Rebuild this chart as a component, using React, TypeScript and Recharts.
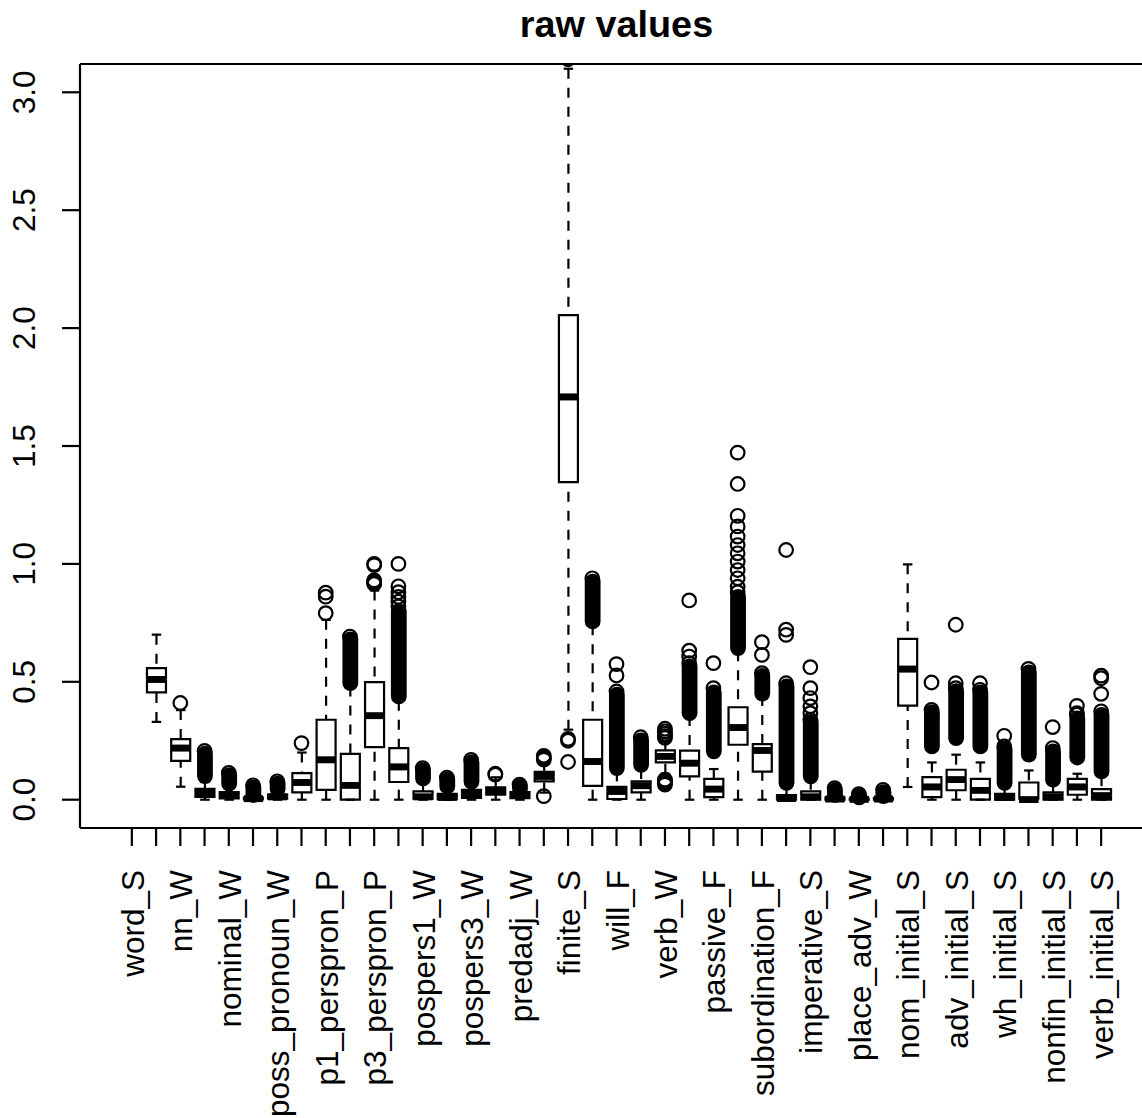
import { ComposedChart, Bar, Scatter, XAxis, YAxis, ReferenceLine } from 'recharts';

// every other variable gets a visible label (R drops the overlapping ones)
const LABELS = [
  'word_S', 'nn_W', 'nominal_W', 'poss_pronoun_W', 'p1_perspron_P', 'p3_perspron_P',
  'pospers1_W', 'pospers3_W', 'predadj_W', 'finite_S', 'will_F', 'verb_W', 'passive_F',
  'subordination_F', 'imperative_S', 'place_adv_W', 'nom_initial_S', 'adv_initial_S',
  'wh_initial_S', 'nonfin_initial_S', 'verb_initial_S',
];

const POSITIONS = [
  1, 2, 3, 4, 5, 6, 7, 8, 9, 10, 11, 12, 13, 14, 15, 16, 17, 18, 19, 20, 21,
  22, 23, 24, 25, 26, 27, 28, 29, 30, 31, 32, 33, 34, 35, 36, 37, 38, 39, 40, 41,
];

// box stats per position (word_S lies entirely above the plotted range)
const WHISKER_LOW = [
  null, 0.33, 0.055, 0, 0, 0, 0, 0, 0, 0, 0, 0, 0, 0, 0, 0, 0, 0.03, 0.297, 0, 0,
  0, 0.11, 0, 0, 0, 0, 0, 0, 0, 0, 0, 0.054, 0, 0, 0, 0, 0, 0, 0, 0,
];
const Q1 = [
  null, 0.455, 0.165, 0.012, 0.006, 0.001, 0.004, 0.031, 0.042, 0, 0.223, 0.075, 0.004, 0.002, 0.008, 0.021, 0.007, 0.078, 1.347, 0.059, 0.003,
  0.031, 0.158, 0.099, 0.011, 0.233, 0.119, 0, 0, 0, 0, 0, 0.399, 0.011, 0.04, 0, 0, 0, 0, 0.021, 0,
];
const MEDIAN = [
  null, 0.51, 0.219, 0.028, 0.017, 0.004, 0.012, 0.073, 0.169, 0.061, 0.356, 0.139, 0.012, 0.01, 0.025, 0.037, 0.018, 0.099, 1.708, 0.162, 0.035,
  0.059, 0.184, 0.155, 0.045, 0.306, 0.209, 0.005, 0.012, 0.003, 0.002, 0.003, 0.554, 0.054, 0.085, 0.04, 0.01, 0, 0.012, 0.054, 0.017,
];
const Q3 = [
  null, 0.558, 0.257, 0.046, 0.032, 0.009, 0.022, 0.113, 0.339, 0.194, 0.499, 0.219, 0.035, 0.025, 0.042, 0.052, 0.032, 0.118, 2.055, 0.339, 0.054,
  0.078, 0.209, 0.208, 0.088, 0.392, 0.236, 0.02, 0.035, 0.009, 0.004, 0.007, 0.682, 0.096, 0.127, 0.088, 0.025, 0.073, 0.031, 0.088, 0.045,
];
const WHISKER_HIGH = [
  null, 0.70, 0.38, 0.075, 0.05, 0.016, 0.036, 0.20, 0.763, 0.48, 0.887, 0.42, 0.07, 0.045, 0.065, 0.095, 0.04, 0.15, 3.10, 0.74, 0.12,
  0.13, 0.245, 0.355, 0.13, 0.63, 0.44, 0.05, 0.085, 0.015, 0.007, 0.012, 0.998, 0.158, 0.191, 0.158, 0.06, 0.124, 0.075, 0.11, 0.1,
];

// stretches where the outlier circles pile up into a solid black column
const RUN_LOW = [
  null, null, null, 0.1, 0.068, 0.02, 0.045, null, null, 0.494, null, 0.438, 0.09, 0.056, 0.077, null, 0.045, null, null, 0.756, 0.134,
  0.148, null, 0.367, 0.205, 0.643, 0.45, 0.071, 0.099, 0.02, 0.01, 0.015, null, 0.226, 0.261, 0.226, 0.071, 0.191, 0.085, 0.179, 0.12,
];
const RUN_HIGH = [
  null, null, null, 0.195, 0.104, 0.052, 0.068, null, null, 0.68, null, 0.80, 0.124, 0.085, 0.158, null, 0.056, null, null, 0.925, 0.445,
  0.252, null, 0.565, 0.455, 0.86, 0.525, 0.48, 0.33, 0.04, 0.016, 0.032, null, 0.37, 0.46, 0.455, 0.215, 0.54, 0.205, 0.345, 0.36,
];

// single outliers that stay readable as rings
const OUTLIERS: number[][] = [
  [],
  [],
  [0.41],
  [0.207],
  [0.114],
  [0.061],
  [0.078],
  [0.24],
  [0.791, 0.861, 0.878],
  [0.692],
  [0.915, 0.92, 0.925, 0.93, 0.995, 1.0],
  [0.82, 0.84, 0.86, 0.88, 0.905, 1.0],
  [0.134],
  [0.094],
  [0.169],
  [0.106, 0.11],
  [0.064],
  [0.015, 0.17, 0.178, 0.186],
  [0.16, 0.25, 0.258, 3.14],
  [0.939],
  [0.459, 0.527, 0.575],
  [0.265],
  [0.064, 0.07, 0.077, 0.085, 0.262, 0.27, 0.28, 0.29, 0.301],
  [0.579, 0.607, 0.632, 0.845],
  [0.473, 0.579],
  [0.88, 0.903, 0.939, 0.974, 1.01, 1.045, 1.08, 1.116, 1.159, 1.204, 1.339, 1.472],
  [0.537, 0.614, 0.668],
  [0.494, 0.699, 0.721, 1.059],
  [0.339, 0.367, 0.396, 0.431, 0.473, 0.562],
  [0.049],
  [0.024],
  [0.042],
  [],
  [0.381, 0.497],
  [0.473, 0.494, 0.742],
  [0.466, 0.494],
  [0.226, 0.271],
  [0.555],
  [0.219, 0.308],
  [0.36, 0.367, 0.398],
  [0.375, 0.449, 0.515, 0.526],
];

const Y_TICKS = [0, 0.5, 1, 1.5, 2, 2.5, 3];
const Y_MIN = -0.12;
const Y_MAX = 3.12;
const X_MIN = -1.14;
const X_MAX = 43.14;

const FONT = '"Liberation Sans", Arial, Helvetica, sans-serif';
const INK = '#000';
const LW = 2.2;
const DASH = '10 9';
const RING = 6.8;

// stacked segments: base -> low whisker -> lower box half -> upper box half -> high whisker -> gap -> outlier run
const rows = POSITIONS.map((pos, i) => {
  const med = MEDIAN[i];
  if (med == null) return { pos };
  const wlo = WHISKER_LOW[i] as number;
  const q1 = Q1[i] as number;
  const q3 = Q3[i] as number;
  const whi = WHISKER_HIGH[i] as number;
  const rlo = RUN_LOW[i];
  const rhi = RUN_HIGH[i];
  return {
    pos,
    med,
    base: wlo,
    lowWhisk: q1 - wlo,
    lowBox: med - q1,
    highBox: q3 - med,
    highWhisk: whi - q3,
    gap: rlo == null ? null : rlo - whi,
    run: rlo == null || rhi == null ? null : rhi - rlo,
  };
});

const outlierPoints = OUTLIERS.flatMap((vals, i) => vals.map((v) => ({ pos: POSITIONS[i], v })));

const hasBox = (p: any) => p && p.payload && p.payload.med != null && Number.isFinite(p.height);

const Nothing = () => null;

const LowWhisker = (p: any) => {
  if (!hasBox(p)) return null;
  const cx = p.x + p.width / 2;
  const cap = p.width / 4;
  const yEnd = p.y + p.height;
  return (
    <g>
      <line x1={cx} x2={cx} y1={yEnd} y2={p.y} stroke={INK} strokeWidth={LW} strokeDasharray={DASH} />
      <line x1={cx - cap} x2={cx + cap} y1={yEnd} y2={yEnd} stroke={INK} strokeWidth={LW} />
    </g>
  );
};

const HighWhisker = (p: any) => {
  if (!hasBox(p)) return null;
  const cx = p.x + p.width / 2;
  const cap = p.width / 4;
  return (
    <g>
      <line x1={cx} x2={cx} y1={p.y} y2={p.y + p.height} stroke={INK} strokeWidth={LW} strokeDasharray={DASH} />
      <line x1={cx - cap} x2={cx + cap} y1={p.y} y2={p.y} stroke={INK} strokeWidth={LW} />
    </g>
  );
};

const LowerHalf = (p: any) => {
  if (!hasBox(p)) return null;
  const { x, y, width, height } = p;
  return (
    <g>
      <path d={`M${x},${y} L${x},${y + height} L${x + width},${y + height} L${x + width},${y}`} fill="none" stroke={INK} strokeWidth={LW} />
      <line x1={x} x2={x + width} y1={y} y2={y} stroke={INK} strokeWidth={LW * 3} />
    </g>
  );
};

const UpperHalf = (p: any) => {
  if (!hasBox(p)) return null;
  const { x, y, width, height } = p;
  return (
    <g>
      <path d={`M${x},${y + height} L${x},${y} L${x + width},${y} L${x + width},${y + height}`} fill="none" stroke={INK} strokeWidth={LW} />
      <line x1={x} x2={x + width} y1={y + height} y2={y + height} stroke={INK} strokeWidth={LW * 3} />
    </g>
  );
};

const OutlierRun = (p: any) => {
  if (!hasBox(p) || p.payload.run == null) return null;
  const cx = p.x + p.width / 2;
  const half = RING + LW / 2;
  return <rect x={cx - half} y={p.y - half} width={half * 2} height={p.height + half * 2} rx={half} ry={half} fill={INK} />;
};

const Ring = (p: any) => {
  if (!Number.isFinite(p.cx) || !Number.isFinite(p.cy)) return null;
  return <circle cx={p.cx} cy={p.cy} r={RING} fill="none" stroke={INK} strokeWidth={LW} />;
};

const XTick = ({ x, y, payload }: any) => {
  const v = payload.value;
  if (v % 2 === 0) return null;
  const tx = x + 12;
  const ty = y + 22;
  return (
    <text x={tx} y={ty} transform={`rotate(-90 ${tx} ${ty})`} textAnchor="end" fontFamily={FONT} fontSize={31.5} fill={INK}>
      {LABELS[(v - 1) / 2]}
    </text>
  );
};

const YTick = ({ x, y, payload }: any) => {
  const tx = x - 25;
  return (
    <text x={tx} y={y} transform={`rotate(-90 ${tx} ${y})`} textAnchor="middle" fontFamily={FONT} fontSize={31.5} fill={INK}>
      {Number(payload.value).toFixed(1)}
    </text>
  );
};

export default function App() {
  return (
    <div style={{ position: 'fixed', left: 0, top: 0, width: 1142, height: 1118, overflow: 'hidden', background: '#fff' }}>
      <div
        style={{
          position: 'absolute',
          left: 0,
          top: 5,
          width: 1233,
          textAlign: 'center',
          fontFamily: FONT,
          fontWeight: 'bold',
          fontSize: 37.8,
          lineHeight: '38px',
          color: INK,
        }}
      >
        raw values
      </div>
      <ComposedChart width={1160} height={1118} data={rows} margin={{ top: 64, right: 7, bottom: 0, left: 0 }}>
        <XAxis
          type="number"
          dataKey="pos"
          domain={[X_MIN, X_MAX]}
          allowDataOverflow
          ticks={POSITIONS}
          interval={0}
          height={290}
          tickSize={18}
          tickMargin={2}
          tick={<XTick />}
          axisLine={{ stroke: INK, strokeWidth: LW }}
          tickLine={{ stroke: INK, strokeWidth: LW }}
        />
        <YAxis
          type="number"
          domain={[Y_MIN, Y_MAX]}
          allowDataOverflow
          ticks={Y_TICKS}
          width={80}
          tickSize={18}
          tickMargin={2}
          tick={<YTick />}
          axisLine={{ stroke: INK, strokeWidth: LW }}
          tickLine={{ stroke: INK, strokeWidth: LW }}
        />
        <ReferenceLine y={Y_MAX} stroke={INK} strokeWidth={LW} ifOverflow="visible" />
        <Bar dataKey="base" stackId="box" barSize={19} shape={Nothing} isAnimationActive={false} />
        <Bar dataKey="lowWhisk" stackId="box" barSize={19} shape={LowWhisker} isAnimationActive={false} />
        <Bar dataKey="lowBox" stackId="box" barSize={19} shape={LowerHalf} isAnimationActive={false} />
        <Bar dataKey="highBox" stackId="box" barSize={19} shape={UpperHalf} isAnimationActive={false} />
        <Bar dataKey="highWhisk" stackId="box" barSize={19} shape={HighWhisker} isAnimationActive={false} />
        <Bar dataKey="gap" stackId="box" barSize={19} shape={Nothing} isAnimationActive={false} />
        <Bar dataKey="run" stackId="box" barSize={19} shape={OutlierRun} isAnimationActive={false} />
        <Scatter data={outlierPoints} dataKey="v" shape={Ring} isAnimationActive={false} />
      </ComposedChart>
    </div>
  );
}
